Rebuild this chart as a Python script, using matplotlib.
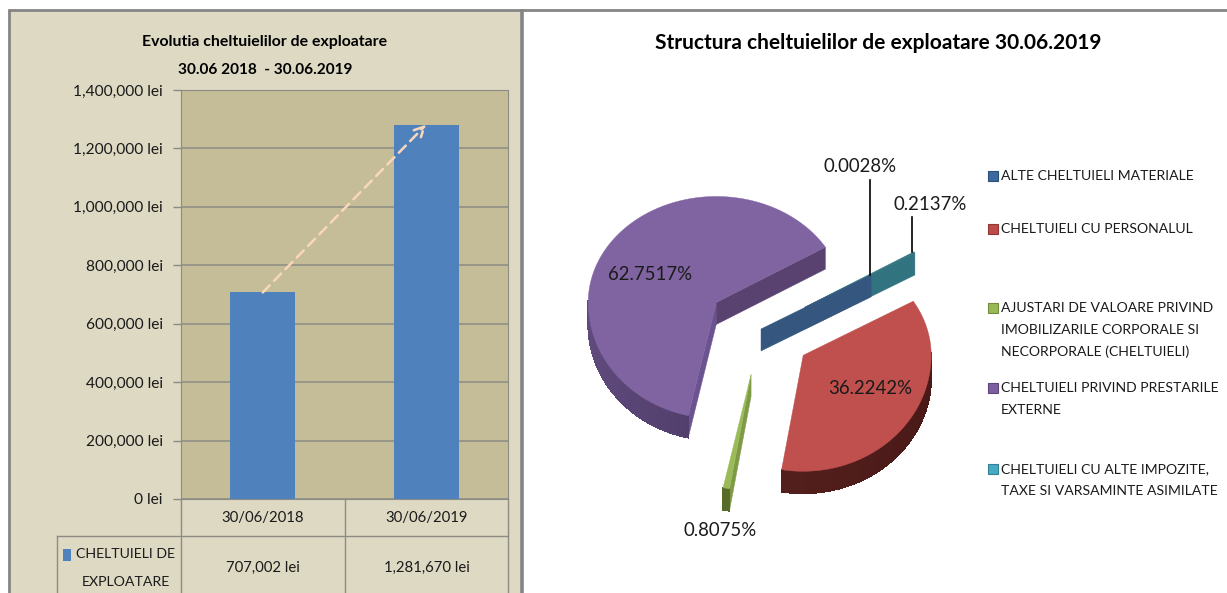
import numpy as np
import matplotlib
matplotlib.use("Agg")
import matplotlib.pyplot as plt
from matplotlib.patches import Polygon, Rectangle

plt.rcParams['font.family'] = ['Lato', 'DejaVu Sans']

# left chart
dates = ['30/06/2018', '30/06/2019']
expenses = [707002, 1281670]
expenses_labels = ['707,002 lei', '1,281,670 lei']
y_ticks = [0, 200000, 400000, 600000, 800000, 1000000, 1200000, 1400000]

# right chart
categories = ['ALTE CHELTUIELI MATERIALE',
              'CHELTUIELI CU PERSONALUL',
              'AJUSTARI DE VALOARE PRIVIND\nIMOBILIZARILE CORPORALE SI\nNECORPORALE (CHELTUIELI)',
              'CHELTUIELI PRIVIND PRESTARILE\nEXTERNE',
              'CHELTUIELI CU ALTE IMPOZITE,\nTAXE SI VARSAMINTE ASIMILATE']
shares = [0.0028, 36.2242, 0.8075, 62.7517, 0.2137]
explode = [0, 0.4, 0.4, 0.43, 0.4]

W, H = 1227, 593
BEIGE = '#DDD9C3'
PLOT_BG = '#C4BD97'
LINE = '#8C8C84'
TEXT = '#1a1a1a'

top_colors = ['#35567F', '#C0504D', '#9BBB59', '#8064A2', '#31737F']
wall_light = ['#35567F', '#5A2320', '#5F7530', '#5F4A7C', '#31737F']
wall_dark = ['#35567F', '#4A1A18', '#4A5C24', '#3C2E54', '#31737F']
face_colors = ['#35567F', '#4F1C1A', '#7E9A45', '#6B5290', '#31737F']
legend_colors = ['#3B69A0', '#BE4B48', '#98B954', '#7D5FA0', '#46AAC5']

fig = plt.figure(figsize=(W / 100, H / 100), dpi=100, facecolor='white')

# whole-figure axes in pixel coords for panel frame, table, pie
bg = fig.add_axes([0, 0, 1, 1])
bg.set_xlim(0, W)
bg.set_ylim(H, 0)
bg.axis('off')

bg.add_patch(Rectangle((9, 10), 512, H, fc=BEIGE, ec='none'))
bg.plot([8, W], [10, 10], color='#858585', lw=2, solid_capstyle='butt')
bg.plot([9, 9], [9, H], color='#858585', lw=2, solid_capstyle='butt')
bg.plot([521.5, 521.5], [9, H], color='#858585', lw=2.6, solid_capstyle='butt')

bg.text(265, 42, 'Evolutia cheltuielilor de exploatare', ha='center', va='center',
        fontsize=11.4, fontweight='bold', color='black')
bg.text(265, 70, '30.06 2018  - 30.06.2019', ha='center', va='center',
        fontsize=11.1, fontweight='bold', color='black')

# bar chart
ax = fig.add_axes([181 / W, 1 - 499 / H, 327 / W, (499 - 90) / H], facecolor=PLOT_BG)
ax.bar([0, 1], expenses, width=0.40, color='#4F81BD', zorder=3)
ax.set_xlim(-0.5, 1.5)
ax.set_ylim(0, 1400000)
ax.set_yticks(y_ticks)
ax.set_yticklabels(['{:,} lei'.format(v) for v in y_ticks], fontsize=11.2, color=TEXT)
ax.set_xticks([])
ax.tick_params(axis='y', length=6, width=1, color=LINE, pad=7)
ax.grid(axis='y', color=LINE, lw=1.1, zorder=1)
for side in ax.spines.values():
    side.set_color(LINE)
ax.annotate('', xy=(1, expenses[1]), xytext=(0, expenses[0]),
            arrowprops=dict(arrowstyle='->', color='#FAD7B8', lw=1.8, ls=(0, (4, 2.5)),
                            shrinkA=0, shrinkB=0, mutation_scale=18), zorder=5)

# data table below the bars
bg.plot([181, 181], [499, 593], color=LINE, lw=1)
bg.plot([344.5, 344.5], [499, 593], color=LINE, lw=1)
bg.plot([508, 508], [499, 593], color=LINE, lw=1)
bg.plot([57, 57], [536, 593], color=LINE, lw=1)
bg.plot([57, 508], [536, 536], color=LINE, lw=1)
for xc, d, v in zip([263, 427], dates, expenses_labels):
    bg.text(xc, 518, d, ha='center', va='center', fontsize=10.7, color=TEXT)
    bg.text(xc, 568, v, ha='center', va='center', fontsize=10.7, color=TEXT)
bg.add_patch(Rectangle((63, 549), 8, 12, fc='#4F81BD', ec='none'))
bg.text(76, 554, 'CHELTUIELI DE', ha='left', va='center', fontsize=10.2, color=TEXT)
bg.text(126, 582, 'EXPLOATARE', ha='center', va='center', fontsize=10.2, color=TEXT)

# pie title
bg.text(878, 43, 'Structura cheltuielilor de exploatare 30.06.2019', ha='center', va='center',
        fontsize=15, fontweight='bold', color='black')

# exploded 3d pie, drawn by hand since matplotlib has no 3d pie
CX, CY = 761, 329
RX, RY_BACK, RY_FRONT = 128, 106, 116
DEPTH = 22
START = 30.7  # degrees, clockwise from the first slice


def rim(cx, cy, deg):
    t = np.radians(deg)
    ry = RY_BACK if np.sin(t) > 0 else RY_FRONT
    return cx + RX * np.cos(t), cy - ry * np.sin(t)


def mix(c1, c2, f):
    a, b = matplotlib.colors.to_rgb(c1), matplotlib.colors.to_rgb(c2)
    return tuple(x + (y - x) * f for x, y in zip(a, b))


angles = START - np.cumsum([0] + shares) * 3.6
pos = {}
for i in [3, 2, 1, 4, 0]:
    a1, a2 = angles[i], angles[i + 1]
    mid = np.radians((a1 + a2) / 2)
    ry_mid = RY_BACK if np.sin(mid) > 0 else RY_FRONT
    cx = CX + explode[i] * RX * np.cos(mid)
    cy = CY - explode[i] * ry_mid * np.sin(mid)
    pos[i] = (cx, cy)

    arc_deg = np.linspace(a1, a2, max(int(abs(a1 - a2)), 2))
    arc = [rim(cx, cy, d) for d in arc_deg]

    # side faces: only those with outward normal pointing down the screen
    for deg, sign in [(a1, 1), (a2, -1)]:
        ex, ey = rim(cx, cy, deg)
        ny = -(ex - cx) * sign
        if ny > 0:
            fc = '#5A4270' if i == 3 and deg == a2 else face_colors[i]
            bg.add_patch(Polygon([(cx, cy), (ex, ey), (ex, ey + DEPTH), (cx, cy + DEPTH)],
                                 closed=True, fc=fc, ec=fc, lw=0.3))

    # outer wall, front half only
    for d0, d1, (x0, y0), (x1, y1) in zip(arc_deg[:-1], arc_deg[1:], arc[:-1], arc[1:]):
        dm = np.radians((d0 + d1) / 2)
        if np.sin(dm) < 0.02:
            c = mix(wall_light[i], wall_dark[i], (np.cos(dm) + 1) / 2)
            bg.add_patch(Polygon([(x0, y0), (x1, y1), (x1, y1 + DEPTH), (x0, y0 + DEPTH)],
                                 closed=True, fc=c, ec=c, lw=0.5, antialiased=False))

    # top face
    if shares[i] > 0.1:
        bg.add_patch(Polygon([(cx, cy)] + arc, closed=True, fc=top_colors[i],
                             ec=top_colors[i], lw=0.3))

# percent labels and leader lines
lab = ['{:.4f}%'.format(v) for v in shares]
lx0, ly0 = rim(pos[0][0], pos[0][1], angles[0])
lx4, ly4 = rim(pos[4][0], pos[4][1], angles[4])
bg.plot([lx0 - 1, lx0 - 1], [ly0, 180], color='black', lw=1.2)
bg.plot([lx4 - 2, lx4 - 2], [ly4, 217], color='black', lw=1.2)
bg.text(860, 167, lab[0], ha='center', va='center', fontsize=13.4, color=TEXT)
bg.text(930, 204, lab[4], ha='center', va='center', fontsize=13.4, color=TEXT)
bg.text(650, 275, lab[3], ha='center', va='center', fontsize=13.4, color=TEXT)
bg.text(870, 389, lab[1], ha='center', va='center', fontsize=13.4, color=TEXT)
bg.text(720, 531, lab[2], ha='center', va='center', fontsize=13.4, color=TEXT)

# legend
legend_y = [176, 229, 308, 388, 469]
for y, name, c in zip(legend_y, categories, legend_colors):
    bg.add_patch(Rectangle((988, y - 5), 10, 10, fc=c, ec=mix(c, '#000000', 0.25), lw=0.8))
    for k, row in enumerate(name.split('\n')):
        bg.text(1001, y + k * 22, row, ha='left', va='center', fontsize=10.1, color=TEXT)
# the second legend entry is cut off at the bottom in the original
bg.add_patch(Rectangle((1000, 232.5), 180, 8, fc='white', ec='none', zorder=5))

fig.savefig('out.png', dpi=100)
